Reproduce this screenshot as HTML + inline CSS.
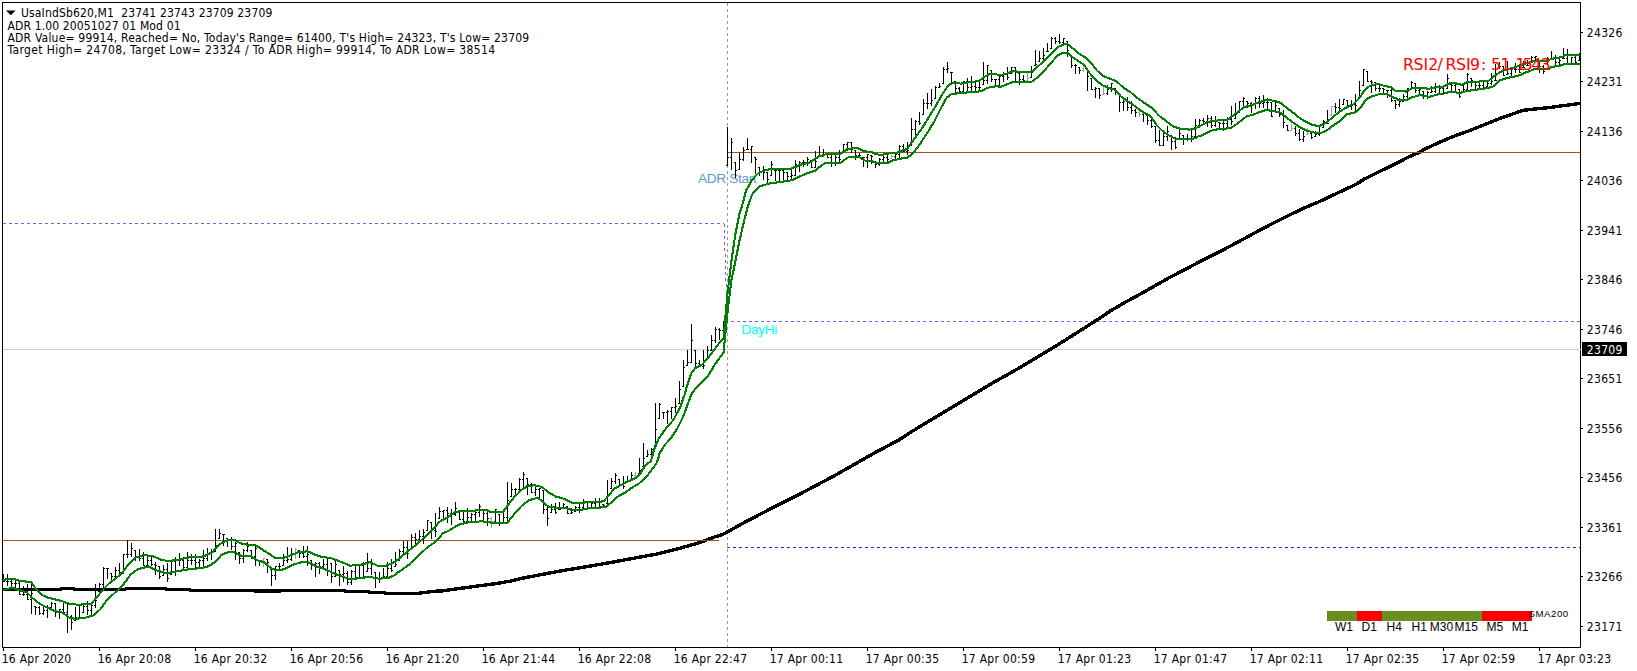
<!DOCTYPE html>
<html><head><meta charset="utf-8"><title>UsaIndSb620,M1</title>
<style>
html,body{margin:0;padding:0;background:#fff;}
body{width:1637px;height:671px;position:relative;overflow:hidden;font-family:"Liberation Sans",sans-serif;}
.t{font-family:"Liberation Sans",sans-serif;}
.h{font-family:"DejaVu Sans Condensed","Liberation Sans",sans-serif;}
.h2{font-family:"DejaVu Sans","Liberation Sans",sans-serif;}
</style></head><body>
<svg width="1637" height="671" viewBox="0 0 1637 671" style="position:absolute;left:0;top:0">
<rect width="100%" height="100%" fill="#fff"/>
<g shape-rendering="crispEdges" fill="none" stroke-width="1">
<path d="M3,349.5H1580" stroke="#d0d0d0"/>
<path d="M727.5,3V647" stroke="#9a9a9a" stroke-dasharray="3,3"/>
<path d="M3,223.5H724" stroke="#7060ee" stroke-dasharray="3,3"/>
<path d="M724,224L727.3,321" stroke="#7060ee" stroke-dasharray="3,3"/>
<path d="M731,321.5H1580" stroke="#7060ee" stroke-dasharray="3,3"/>
<path d="M727,547.5H1580" stroke="#7000f0" stroke-dasharray="3,3"/>
</g>
<polyline points="2.0,589.3 60.0,589.3 62.0,588.6 73.0,588.6 75.0,589.3 125.0,589.4 127.0,588.3 165.0,588.3 167.0,589.6 189.0,589.6 191.0,590.3 253.0,590.3 255.0,591.0 280.0,591.0 282.0,590.3 344.0,590.3 346.0,591.5 368.0,591.5 371.0,592.7 384.0,592.7 387.0,593.7 415.0,593.7 420.0,593.1 434.0,591.3 441.1,591.0 480.0,585.7 494.7,583.8 509.3,581.3 524.0,577.9 538.7,575.1 553.3,572.3 568.0,569.7 582.6,567.3 597.3,564.8 612.0,562.3 626.6,559.5 641.3,556.9 656.0,554.2 670.6,550.6 685.3,546.8 700.0,542.4 714.6,537.0 722.1,534.8 746.5,521.3 771.0,508.6 797.3,495.4 834.5,475.7 871.8,454.4 898.8,440.0 910.9,432.1 931.7,419.5 952.6,407.0 973.5,394.5 994.3,382.0 1015.2,370.3 1036.0,358.0 1056.9,345.3 1077.8,332.2 1098.0,319.3 1109.8,311.3 1124.7,302.5 1139.6,294.5 1154.5,286.0 1169.4,277.6 1184.3,269.9 1199.2,262.0 1214.1,254.6 1229.0,246.8 1243.9,238.8 1260.0,230.0 1274.9,222.3 1289.8,214.8 1304.7,207.8 1319.6,201.5 1334.5,194.4 1349.4,187.5 1356.9,183.9 1364.3,179.0 1379.2,171.7 1394.1,164.5 1409.0,156.8 1419.5,152.3 1423.9,149.6 1438.8,142.6 1453.7,136.3 1468.1,131.1 1497.9,119.2 1523.2,110.3 1551.5,107.3 1579.8,103.4" fill="none" stroke="#000" stroke-width="3.4" shape-rendering="crispEdges" stroke-linejoin="round"/>
<path d="M3,540.5H719M727,152.5H1580" stroke="#a0522d" stroke-width="1" fill="none" shape-rendering="crispEdges"/>
<text x="697.9" y="182.7" font-size="13.7" fill="#5b9bd0" class="t" textLength="58.8" lengthAdjust="spacing">ADR Start</text>
<text x="741.6" y="333.8" font-size="13.6" fill="#00ffff" class="t" textLength="35.6" lengthAdjust="spacing">DayHi</text>
<path d="M3.5,574V582M2,581.5h1.5M3.5,581.5h1.5M7.5,574V586M6,581.5h1.5M7.5,581.5h1.5M11.5,580V588M10,581.5h1.5M11.5,583.5h1.5M15.5,581V589M14,583.5h1.5M15.5,583.5h1.5M19.5,582V595M18,583.5h1.5M19.5,594.5h1.5M23.5,586V596M22,594.5h1.5M23.5,594.5h1.5M27.5,584V600M26,594.5h1.5M27.5,599.5h1.5M31.5,582V614M30,599.5h1.5M31.5,593.5h1.5M35.5,606V615M34,606.5h1.5M35.5,607.5h1.5M39.5,606V615M38,607.5h1.5M39.5,613.5h1.5M43.5,606V615M42,613.5h1.5M43.5,610.5h1.5M47.5,605V618M46,610.5h1.5M47.5,607.5h1.5M51.5,602V610M50,607.5h1.5M51.5,603.5h1.5M55.5,603V617M54,603.5h1.5M55.5,611.5h1.5M59.5,609V619M58,611.5h1.5M59.5,609.5h1.5M63.5,603V615M62,609.5h1.5M63.5,612.5h1.5M67.5,604V633M66,612.5h1.5M67.5,616.5h1.5M71.5,615V630M70,616.5h1.5M71.5,622.5h1.5M75.5,607V621M74,620.5h1.5M75.5,617.5h1.5M79.5,606V618M78,617.5h1.5M79.5,617.5h1.5M83.5,604V613M82,612.5h1.5M83.5,606.5h1.5M87.5,601V615M86,606.5h1.5M87.5,610.5h1.5M91.5,605V615M90,610.5h1.5M91.5,605.5h1.5M95.5,584V608M94,605.5h1.5M95.5,600.5h1.5M99.5,583V592M98,591.5h1.5M99.5,584.5h1.5M103.5,567V588M102,584.5h1.5M103.5,568.5h1.5M107.5,568V579M106,568.5h1.5M107.5,568.5h1.5M111.5,573V582M110,573.5h1.5M111.5,576.5h1.5M115.5,567V579M114,576.5h1.5M115.5,570.5h1.5M119.5,563V574M118,570.5h1.5M119.5,572.5h1.5M123.5,554V574M122,572.5h1.5M123.5,554.5h1.5M127.5,540V558M126,554.5h1.5M127.5,554.5h1.5M131.5,543V557M130,554.5h1.5M131.5,548.5h1.5M135.5,550V561M134,550.5h1.5M135.5,557.5h1.5M139.5,549V561M138,557.5h1.5M139.5,558.5h1.5M143.5,552V566M142,558.5h1.5M143.5,565.5h1.5M147.5,557V566M146,565.5h1.5M147.5,560.5h1.5M151.5,556V566M150,560.5h1.5M151.5,564.5h1.5M155.5,562V575M154,564.5h1.5M155.5,565.5h1.5M159.5,566V579M158,566.5h1.5M159.5,576.5h1.5M163.5,565V576M162,575.5h1.5M163.5,569.5h1.5M167.5,563V582M166,569.5h1.5M167.5,578.5h1.5M171.5,561V575M170,574.5h1.5M171.5,561.5h1.5M175.5,557V576M174,561.5h1.5M175.5,559.5h1.5M179.5,553V566M178,559.5h1.5M179.5,560.5h1.5M183.5,557V571M182,560.5h1.5M183.5,567.5h1.5M187.5,552V571M186,567.5h1.5M187.5,560.5h1.5M191.5,554V565M190,560.5h1.5M191.5,560.5h1.5M195.5,554V568M194,560.5h1.5M195.5,562.5h1.5M199.5,559V569M198,562.5h1.5M199.5,560.5h1.5M203.5,550V568M202,560.5h1.5M203.5,558.5h1.5M207.5,548V561M206,558.5h1.5M207.5,553.5h1.5M211.5,549V560M210,553.5h1.5M211.5,552.5h1.5M215.5,529V552M214,551.5h1.5M215.5,545.5h1.5M219.5,529V539M218,538.5h1.5M219.5,533.5h1.5M223.5,534V546M222,534.5h1.5M223.5,534.5h1.5M227.5,538V547M226,538.5h1.5M227.5,539.5h1.5M231.5,537V550M230,539.5h1.5M231.5,546.5h1.5M235.5,540V560M234,546.5h1.5M235.5,543.5h1.5M239.5,552V564M238,552.5h1.5M239.5,558.5h1.5M243.5,549V563M242,558.5h1.5M243.5,550.5h1.5M247.5,542V552M246,550.5h1.5M247.5,546.5h1.5M251.5,550V559M250,550.5h1.5M251.5,556.5h1.5M255.5,546V566M254,556.5h1.5M255.5,548.5h1.5M259.5,560V566M258,560.5h1.5M259.5,560.5h1.5M267.5,559V573M266,559.5h1.5M267.5,562.5h1.5M271.5,569V586M270,569.5h1.5M271.5,575.5h1.5M275.5,566V580M274,575.5h1.5M275.5,566.5h1.5M279.5,563V570M278,566.5h1.5M279.5,566.5h1.5M283.5,554V566M282,565.5h1.5M283.5,560.5h1.5M287.5,547V563M286,560.5h1.5M287.5,559.5h1.5M291.5,548V561M290,559.5h1.5M291.5,554.5h1.5M299.5,550V558M298,550.5h1.5M299.5,553.5h1.5M303.5,546V558M302,553.5h1.5M303.5,556.5h1.5M307.5,546V566M306,556.5h1.5M307.5,554.5h1.5M311.5,560V570M310,560.5h1.5M311.5,565.5h1.5M315.5,562V577M314,565.5h1.5M315.5,563.5h1.5M319.5,562V574M318,563.5h1.5M319.5,566.5h1.5M323.5,559V570M322,566.5h1.5M323.5,564.5h1.5M327.5,557V576M326,564.5h1.5M327.5,557.5h1.5M331.5,563V583M330,563.5h1.5M331.5,576.5h1.5M335.5,561V577M334,576.5h1.5M335.5,564.5h1.5M339.5,570V586M338,570.5h1.5M339.5,574.5h1.5M343.5,566V582M342,574.5h1.5M343.5,573.5h1.5M347.5,571V585M346,573.5h1.5M347.5,582.5h1.5M351.5,570V585M350,582.5h1.5M351.5,571.5h1.5M355.5,565V579M354,571.5h1.5M355.5,565.5h1.5M359.5,565V578M358,565.5h1.5M359.5,565.5h1.5M363.5,562V578M362,565.5h1.5M363.5,576.5h1.5M367.5,553V572M366,571.5h1.5M367.5,568.5h1.5M371.5,559V575M370,568.5h1.5M371.5,564.5h1.5M375.5,572V588M374,572.5h1.5M375.5,578.5h1.5M379.5,572V583M378,578.5h1.5M379.5,579.5h1.5M383.5,568V579M382,578.5h1.5M383.5,576.5h1.5M387.5,562V578M386,576.5h1.5M387.5,568.5h1.5M391.5,559V572M390,568.5h1.5M391.5,570.5h1.5M395.5,552V567M394,566.5h1.5M395.5,564.5h1.5M399.5,549V561M398,560.5h1.5M399.5,551.5h1.5M403.5,541V554M402,551.5h1.5M403.5,547.5h1.5M407.5,541V559M406,547.5h1.5M407.5,553.5h1.5M411.5,534V550M410,549.5h1.5M411.5,537.5h1.5M415.5,533V545M414,537.5h1.5M415.5,539.5h1.5M419.5,530V541M418,539.5h1.5M419.5,536.5h1.5M423.5,529V544M422,536.5h1.5M423.5,532.5h1.5M427.5,520V531M426,530.5h1.5M427.5,520.5h1.5M431.5,522V539M430,522.5h1.5M431.5,530.5h1.5M435.5,513V537M434,530.5h1.5M435.5,531.5h1.5M439.5,507V519M438,518.5h1.5M439.5,511.5h1.5M443.5,510V520M442,511.5h1.5M443.5,510.5h1.5M447.5,507V523M446,510.5h1.5M447.5,513.5h1.5M451.5,509V525M450,513.5h1.5M451.5,514.5h1.5M455.5,502V516M454,514.5h1.5M455.5,508.5h1.5M459.5,510V520M458,510.5h1.5M459.5,519.5h1.5M463.5,511V522M462,519.5h1.5M463.5,521.5h1.5M467.5,508V523M466,521.5h1.5M467.5,517.5h1.5M471.5,513V523M470,517.5h1.5M471.5,514.5h1.5M475.5,512V523M474,514.5h1.5M475.5,512.5h1.5M479.5,504V517M478,512.5h1.5M479.5,506.5h1.5M483.5,510V522M482,510.5h1.5M483.5,513.5h1.5M487.5,511V526M486,513.5h1.5M487.5,518.5h1.5M495.5,509V523M494,521.5h1.5M495.5,509.5h1.5M499.5,514V526M498,514.5h1.5M499.5,523.5h1.5M503.5,512V523M502,522.5h1.5M503.5,517.5h1.5M507.5,482V523M506,517.5h1.5M507.5,500.5h1.5M511.5,483V497M510,496.5h1.5M511.5,489.5h1.5M515.5,488V497M514,489.5h1.5M515.5,489.5h1.5M519.5,478V492M518,489.5h1.5M519.5,479.5h1.5M523.5,472V488M522,479.5h1.5M523.5,474.5h1.5M527.5,478V495M526,478.5h1.5M527.5,484.5h1.5M531.5,483V493M530,484.5h1.5M531.5,492.5h1.5M535.5,486V496M534,492.5h1.5M535.5,489.5h1.5M539.5,488V499M538,489.5h1.5M539.5,488.5h1.5M543.5,490V514M542,490.5h1.5M543.5,509.5h1.5M547.5,507V526M546,509.5h1.5M547.5,518.5h1.5M551.5,504V513M550,512.5h1.5M551.5,509.5h1.5M555.5,503V514M554,509.5h1.5M555.5,512.5h1.5M559.5,502V510M558,509.5h1.5M559.5,509.5h1.5M563.5,503V509M562,508.5h1.5M563.5,504.5h1.5M567.5,506V514M566,506.5h1.5M567.5,513.5h1.5M571.5,508V514M570,513.5h1.5M571.5,512.5h1.5M575.5,506V512M574,511.5h1.5M575.5,507.5h1.5M579.5,503V513M578,507.5h1.5M579.5,509.5h1.5M583.5,499V508M582,507.5h1.5M583.5,501.5h1.5M587.5,502V509M586,502.5h1.5M587.5,507.5h1.5M591.5,502V509M590,507.5h1.5M591.5,503.5h1.5M595.5,498V509M594,503.5h1.5M595.5,502.5h1.5M599.5,498V508M598,502.5h1.5M599.5,501.5h1.5M603.5,504V508M602,504.5h1.5M603.5,505.5h1.5M607.5,480V504M606,503.5h1.5M607.5,503.5h1.5M611.5,478V489M610,488.5h1.5M611.5,481.5h1.5M615.5,473V484M614,481.5h1.5M615.5,475.5h1.5M619.5,479V486M618,479.5h1.5M619.5,484.5h1.5M623.5,476V489M622,484.5h1.5M623.5,486.5h1.5M627.5,476V483M626,482.5h1.5M627.5,480.5h1.5M631.5,472V480M630,479.5h1.5M631.5,475.5h1.5M639.5,458V474M638,473.5h1.5M639.5,470.5h1.5M643.5,443V467M642,466.5h1.5M643.5,458.5h1.5M647.5,450V457M646,456.5h1.5M647.5,454.5h1.5M651.5,448V457M650,454.5h1.5M651.5,449.5h1.5M655.5,403V446M654,445.5h1.5M655.5,429.5h1.5M659.5,403V419M658,418.5h1.5M659.5,404.5h1.5M663.5,412V419M662,412.5h1.5M663.5,412.5h1.5M667.5,410V424M666,412.5h1.5M667.5,411.5h1.5M671.5,407V419M670,411.5h1.5M671.5,407.5h1.5M675.5,398V413M674,407.5h1.5M675.5,406.5h1.5M679.5,381V404M678,403.5h1.5M679.5,389.5h1.5M683.5,360V387M682,386.5h1.5M683.5,367.5h1.5M687.5,350V366M686,365.5h1.5M687.5,362.5h1.5M691.5,324V363M690,362.5h1.5M691.5,340.5h1.5M695.5,350V368M694,350.5h1.5M695.5,363.5h1.5M699.5,360V367M698,363.5h1.5M699.5,366.5h1.5M703.5,350V369M702,366.5h1.5M703.5,365.5h1.5M707.5,346V359M706,358.5h1.5M707.5,350.5h1.5M711.5,335V351M710,350.5h1.5M711.5,340.5h1.5M715.5,327V343M714,340.5h1.5M715.5,329.5h1.5M719.5,328V340M718,329.5h1.5M719.5,330.5h1.5M723.5,321V338M722,330.5h1.5M723.5,328.5h1.5M727.5,127V166M726,165.5h1.5M727.5,157.5h1.5M731.5,138V170M730,157.5h1.5M731.5,142.5h1.5M735.5,162V178M734,162.5h1.5M735.5,170.5h1.5M739.5,153V170M738,169.5h1.5M739.5,159.5h1.5M743.5,147V161M742,159.5h1.5M743.5,150.5h1.5M747.5,138V150M746,149.5h1.5M747.5,149.5h1.5M751.5,146V163M750,149.5h1.5M751.5,146.5h1.5M755.5,157V174M754,157.5h1.5M755.5,159.5h1.5M759.5,167V176M758,167.5h1.5M759.5,171.5h1.5M763.5,166V180M762,171.5h1.5M763.5,172.5h1.5M767.5,172V184M766,172.5h1.5M767.5,179.5h1.5M771.5,161V176M770,175.5h1.5M771.5,164.5h1.5M775.5,170V181M774,170.5h1.5M775.5,170.5h1.5M779.5,170V181M778,170.5h1.5M779.5,170.5h1.5M783.5,170V180M782,170.5h1.5M783.5,172.5h1.5M787.5,172V181M786,172.5h1.5M787.5,176.5h1.5M791.5,170V181M790,176.5h1.5M791.5,175.5h1.5M795.5,160V176M794,175.5h1.5M795.5,164.5h1.5M799.5,161V172M798,164.5h1.5M799.5,162.5h1.5M803.5,160V167M802,162.5h1.5M803.5,162.5h1.5M807.5,157V166M806,162.5h1.5M807.5,159.5h1.5M811.5,160V168M810,160.5h1.5M811.5,167.5h1.5M815.5,151V168M814,167.5h1.5M815.5,161.5h1.5M819.5,146V157M818,156.5h1.5M819.5,156.5h1.5M823.5,149V155M822,154.5h1.5M823.5,154.5h1.5M827.5,153V158M826,154.5h1.5M827.5,157.5h1.5M831.5,154V167M830,157.5h1.5M831.5,163.5h1.5M835.5,155V166M834,163.5h1.5M835.5,157.5h1.5M839.5,150V164M838,157.5h1.5M839.5,159.5h1.5M843.5,144V153M842,152.5h1.5M843.5,144.5h1.5M847.5,142V151M846,144.5h1.5M847.5,142.5h1.5M851.5,142V153M850,142.5h1.5M851.5,149.5h1.5M855.5,150V160M854,150.5h1.5M855.5,155.5h1.5M859.5,153V158M858,155.5h1.5M859.5,155.5h1.5M863.5,157V167M862,157.5h1.5M863.5,157.5h1.5M867.5,154V168M866,157.5h1.5M867.5,154.5h1.5M871.5,155V164M870,155.5h1.5M871.5,156.5h1.5M875.5,161V168M874,161.5h1.5M875.5,164.5h1.5M879.5,158V166M878,164.5h1.5M879.5,159.5h1.5M883.5,153V163M882,159.5h1.5M883.5,157.5h1.5M887.5,154V162M886,157.5h1.5M887.5,159.5h1.5M895.5,154V159M894,156.5h1.5M895.5,154.5h1.5M899.5,145V158M898,154.5h1.5M899.5,146.5h1.5M903.5,144V152M902,146.5h1.5M903.5,151.5h1.5M907.5,142V155M906,151.5h1.5M907.5,150.5h1.5M911.5,118V146M910,145.5h1.5M911.5,129.5h1.5M915.5,120V136M914,129.5h1.5M915.5,121.5h1.5M919.5,112V125M918,121.5h1.5M919.5,123.5h1.5M923.5,99V115M922,114.5h1.5M923.5,103.5h1.5M927.5,93V109M926,103.5h1.5M927.5,103.5h1.5M931.5,89V106M930,103.5h1.5M931.5,100.5h1.5M935.5,86V99M934,98.5h1.5M935.5,87.5h1.5M939.5,83V88M938,87.5h1.5M939.5,86.5h1.5M943.5,67V84M942,83.5h1.5M943.5,69.5h1.5M947.5,62V73M946,69.5h1.5M947.5,68.5h1.5M951.5,72V84M950,72.5h1.5M951.5,72.5h1.5M955.5,81V94M954,81.5h1.5M955.5,88.5h1.5M959.5,87V94M958,88.5h1.5M959.5,91.5h1.5M963.5,81V94M962,91.5h1.5M963.5,81.5h1.5M967.5,78V91M966,81.5h1.5M967.5,87.5h1.5M971.5,76V91M970,87.5h1.5M971.5,86.5h1.5M975.5,81V92M974,86.5h1.5M975.5,87.5h1.5M979.5,81V92M978,87.5h1.5M979.5,87.5h1.5M983.5,62V85M982,84.5h1.5M983.5,80.5h1.5M987.5,65V84M986,80.5h1.5M987.5,65.5h1.5M991.5,70V82M990,70.5h1.5M991.5,79.5h1.5M995.5,79V86M994,79.5h1.5M995.5,79.5h1.5M999.5,75V87M998,79.5h1.5M999.5,76.5h1.5M1003.5,72V82M1002,76.5h1.5M1003.5,73.5h1.5M1007.5,67V80M1006,73.5h1.5M1007.5,77.5h1.5M1011.5,67V74M1010,73.5h1.5M1011.5,67.5h1.5M1015.5,67V82M1014,67.5h1.5M1015.5,71.5h1.5M1019.5,73V85M1018,73.5h1.5M1019.5,79.5h1.5M1023.5,75V82M1022,79.5h1.5M1023.5,80.5h1.5M1031.5,66V78M1030,77.5h1.5M1031.5,72.5h1.5M1035.5,50V66M1034,65.5h1.5M1035.5,64.5h1.5M1039.5,51V62M1038,61.5h1.5M1039.5,58.5h1.5M1043.5,48V60M1042,58.5h1.5M1043.5,55.5h1.5M1047.5,43V52M1046,51.5h1.5M1047.5,51.5h1.5M1051.5,37V49M1050,48.5h1.5M1051.5,38.5h1.5M1055.5,37V44M1054,38.5h1.5M1055.5,41.5h1.5M1059.5,34V44M1058,41.5h1.5M1059.5,42.5h1.5M1063.5,38V44M1062,42.5h1.5M1063.5,38.5h1.5M1067.5,41V57M1066,41.5h1.5M1067.5,50.5h1.5M1071.5,56V68M1070,56.5h1.5M1071.5,65.5h1.5M1075.5,64V74M1074,65.5h1.5M1075.5,65.5h1.5M1079.5,67V74M1078,67.5h1.5M1079.5,70.5h1.5M1087.5,69V91M1086,69.5h1.5M1087.5,76.5h1.5M1091.5,78V90M1090,78.5h1.5M1091.5,89.5h1.5M1095.5,87V98M1094,89.5h1.5M1095.5,88.5h1.5M1099.5,88V99M1098,88.5h1.5M1099.5,95.5h1.5M1107.5,85V95M1106,93.5h1.5M1107.5,89.5h1.5M1111.5,83V92M1110,89.5h1.5M1111.5,83.5h1.5M1115.5,88V95M1114,88.5h1.5M1115.5,90.5h1.5M1119.5,93V112M1118,93.5h1.5M1119.5,102.5h1.5M1123.5,99V111M1122,102.5h1.5M1123.5,101.5h1.5M1127.5,97V111M1126,101.5h1.5M1127.5,107.5h1.5M1131.5,101V114M1130,107.5h1.5M1131.5,110.5h1.5M1135.5,109V117M1134,110.5h1.5M1135.5,112.5h1.5M1143.5,111V122M1142,114.5h1.5M1143.5,113.5h1.5M1147.5,115V125M1146,115.5h1.5M1147.5,120.5h1.5M1151.5,116V128M1150,120.5h1.5M1151.5,126.5h1.5M1155.5,126V143M1154,126.5h1.5M1155.5,140.5h1.5M1159.5,130V146M1158,140.5h1.5M1159.5,145.5h1.5M1163.5,133V146M1162,145.5h1.5M1163.5,136.5h1.5M1167.5,126V141M1166,136.5h1.5M1167.5,131.5h1.5M1171.5,135V150M1170,135.5h1.5M1171.5,141.5h1.5M1175.5,137V149M1174,141.5h1.5M1175.5,147.5h1.5M1179.5,129V139M1178,138.5h1.5M1179.5,133.5h1.5M1183.5,135V145M1182,135.5h1.5M1183.5,138.5h1.5M1187.5,134V141M1186,138.5h1.5M1187.5,139.5h1.5M1191.5,130V142M1190,139.5h1.5M1191.5,136.5h1.5M1195.5,119V138M1194,136.5h1.5M1195.5,125.5h1.5M1199.5,119V126M1198,125.5h1.5M1199.5,120.5h1.5M1203.5,118V125M1202,120.5h1.5M1203.5,121.5h1.5M1207.5,115V127M1206,121.5h1.5M1207.5,118.5h1.5M1211.5,116V128M1210,118.5h1.5M1211.5,125.5h1.5M1215.5,116V127M1214,125.5h1.5M1215.5,121.5h1.5M1219.5,122V128M1218,122.5h1.5M1219.5,123.5h1.5M1223.5,121V131M1222,123.5h1.5M1223.5,123.5h1.5M1227.5,117V128M1226,123.5h1.5M1227.5,119.5h1.5M1231.5,106V125M1230,119.5h1.5M1231.5,121.5h1.5M1235.5,103V119M1234,118.5h1.5M1235.5,114.5h1.5M1239.5,101V113M1238,112.5h1.5M1239.5,101.5h1.5M1243.5,97V107M1242,101.5h1.5M1243.5,98.5h1.5M1247.5,101V108M1246,101.5h1.5M1247.5,103.5h1.5M1251.5,102V113M1250,103.5h1.5M1251.5,104.5h1.5M1255.5,97V109M1254,104.5h1.5M1255.5,98.5h1.5M1259.5,96V108M1258,98.5h1.5M1259.5,103.5h1.5M1263.5,95V108M1262,103.5h1.5M1263.5,102.5h1.5M1267.5,98V109M1266,102.5h1.5M1267.5,102.5h1.5M1271.5,102V117M1270,102.5h1.5M1271.5,116.5h1.5M1275.5,102V111M1274,110.5h1.5M1275.5,105.5h1.5M1279.5,108V117M1278,108.5h1.5M1279.5,114.5h1.5M1283.5,110V128M1282,114.5h1.5M1283.5,122.5h1.5M1287.5,125V131M1286,125.5h1.5M1287.5,130.5h1.5M1295.5,126V136M1294,128.5h1.5M1295.5,133.5h1.5M1299.5,129V141M1298,133.5h1.5M1299.5,139.5h1.5M1303.5,131V142M1302,139.5h1.5M1303.5,136.5h1.5M1311.5,133V139M1310,133.5h1.5M1311.5,137.5h1.5M1315.5,131V137M1314,136.5h1.5M1315.5,134.5h1.5M1319.5,127V136M1318,134.5h1.5M1319.5,132.5h1.5M1323.5,120V128M1322,127.5h1.5M1323.5,121.5h1.5M1327.5,110V124M1326,121.5h1.5M1327.5,123.5h1.5M1335.5,103V113M1334,106.5h1.5M1335.5,107.5h1.5M1339.5,99V111M1338,107.5h1.5M1339.5,108.5h1.5M1343.5,99V105M1342,104.5h1.5M1343.5,99.5h1.5M1347.5,100V106M1346,100.5h1.5M1347.5,105.5h1.5M1351.5,100V110M1350,105.5h1.5M1351.5,104.5h1.5M1355.5,94V111M1354,104.5h1.5M1355.5,105.5h1.5M1359.5,81V98M1358,97.5h1.5M1359.5,90.5h1.5M1363.5,69V86M1362,85.5h1.5M1363.5,69.5h1.5M1367.5,71V82M1366,71.5h1.5M1367.5,81.5h1.5M1371.5,80V93M1370,81.5h1.5M1371.5,82.5h1.5M1375.5,82V91M1374,82.5h1.5M1375.5,88.5h1.5M1379.5,85V92M1378,88.5h1.5M1379.5,88.5h1.5M1383.5,88V94M1382,88.5h1.5M1383.5,89.5h1.5M1387.5,90V98M1386,90.5h1.5M1387.5,90.5h1.5M1391.5,88V102M1390,90.5h1.5M1391.5,100.5h1.5M1395.5,100V109M1394,100.5h1.5M1395.5,104.5h1.5M1399.5,98V107M1398,104.5h1.5M1399.5,101.5h1.5M1403.5,94V102M1402,101.5h1.5M1403.5,96.5h1.5M1407.5,88V100M1406,96.5h1.5M1407.5,88.5h1.5M1411.5,81V90M1410,88.5h1.5M1411.5,82.5h1.5M1415.5,83V93M1414,83.5h1.5M1415.5,90.5h1.5M1419.5,89V96M1418,90.5h1.5M1419.5,89.5h1.5M1423.5,91V99M1422,91.5h1.5M1423.5,96.5h1.5M1427.5,91V99M1426,96.5h1.5M1427.5,92.5h1.5M1431.5,86V93M1430,92.5h1.5M1431.5,91.5h1.5M1435.5,83V93M1434,91.5h1.5M1435.5,86.5h1.5M1439.5,85V94M1438,86.5h1.5M1439.5,88.5h1.5M1443.5,86V94M1442,88.5h1.5M1443.5,93.5h1.5M1447.5,74V89M1446,88.5h1.5M1447.5,78.5h1.5M1451.5,84V91M1450,84.5h1.5M1451.5,85.5h1.5M1455.5,82V92M1454,85.5h1.5M1455.5,82.5h1.5M1459.5,89V98M1458,89.5h1.5M1459.5,96.5h1.5M1463.5,85V92M1462,91.5h1.5M1463.5,89.5h1.5M1467.5,73V90M1466,89.5h1.5M1467.5,74.5h1.5M1471.5,78V87M1470,78.5h1.5M1471.5,80.5h1.5M1475.5,82V90M1474,82.5h1.5M1475.5,85.5h1.5M1479.5,81V90M1478,85.5h1.5M1479.5,85.5h1.5M1483.5,81V88M1482,85.5h1.5M1483.5,87.5h1.5M1487.5,81V87M1486,86.5h1.5M1487.5,83.5h1.5M1491.5,73V85M1490,83.5h1.5M1491.5,81.5h1.5M1495.5,64V81M1494,80.5h1.5M1495.5,80.5h1.5M1499.5,62V69M1498,68.5h1.5M1499.5,66.5h1.5M1503.5,66V76M1502,66.5h1.5M1503.5,75.5h1.5M1507.5,61V75M1506,74.5h1.5M1507.5,73.5h1.5M1511.5,67V76M1510,73.5h1.5M1511.5,69.5h1.5M1515.5,63V73M1514,69.5h1.5M1515.5,69.5h1.5M1519.5,66V73M1518,69.5h1.5M1519.5,72.5h1.5M1523.5,61V68M1522,67.5h1.5M1523.5,67.5h1.5M1527.5,60V66M1526,65.5h1.5M1527.5,65.5h1.5M1531.5,56V62M1530,61.5h1.5M1531.5,57.5h1.5M1535.5,56V62M1534,57.5h1.5M1535.5,56.5h1.5M1539.5,60V73M1538,60.5h1.5M1539.5,66.5h1.5M1543.5,65V74M1542,66.5h1.5M1543.5,71.5h1.5M1547.5,57V64M1546,63.5h1.5M1547.5,58.5h1.5M1551.5,51V59M1550,58.5h1.5M1551.5,58.5h1.5M1555.5,55V65M1554,58.5h1.5M1555.5,62.5h1.5M1559.5,59V66M1558,62.5h1.5M1559.5,60.5h1.5M1563.5,48V59M1562,58.5h1.5M1563.5,58.5h1.5M1567.5,49V64M1566,58.5h1.5M1567.5,63.5h1.5M1571.5,57V64M1570,63.5h1.5M1571.5,57.5h1.5M1575.5,56V64M1574,57.5h1.5M1575.5,62.5h1.5M1579.5,53V61M1578,60.5h1.5M1579.5,58.5h1.5" stroke="#000" stroke-width="1" fill="none" shape-rendering="crispEdges"/><path d="M263.5,558V567M262,560.5h1.5M263.5,558.5h1.5M295.5,548V559M294,554.5h1.5M295.5,549.5h1.5M491.5,517V528M490,518.5h1.5M491.5,521.5h1.5M635.5,472V478M634,475.5h1.5M635.5,477.5h1.5M891.5,155V159M890,158.5h1.5M891.5,156.5h1.5M1027.5,73V82M1026,80.5h1.5M1027.5,78.5h1.5M1083.5,65V72M1082,70.5h1.5M1083.5,65.5h1.5M1103.5,86V95M1102,94.5h1.5M1103.5,93.5h1.5M1139.5,110V117M1138,112.5h1.5M1139.5,114.5h1.5M1291.5,124V131M1290,130.5h1.5M1291.5,128.5h1.5M1307.5,128V135M1306,134.5h1.5M1307.5,133.5h1.5M1331.5,106V116M1330,115.5h1.5M1331.5,106.5h1.5" stroke="#a0a0a0" stroke-width="1" fill="none" shape-rendering="crispEdges"/>
<path d="M1061,52.5h8M1059,53.5h11M1057,54.5h5M1068,54.5h3M1056,55.5h4M1069,55.5h3M1055,56.5h3M1070,56.5h3M1054,57.5h3M1072,57.5h3M1054,58.5h2M1073,58.5h3M1053,59.5h2M1074,59.5h4M1052,60.5h2M1076,60.5h3M1051,61.5h3M1077,61.5h4M1050,62.5h3M1079,62.5h3M1049,63.5h3M1080,63.5h4M1563,63.5h17M1048,64.5h3M1082,64.5h3M1560,64.5h20M1047,65.5h3M1083,65.5h3M1554,65.5h10M1047,66.5h2M1084,66.5h2M1550,66.5h11M1046,67.5h2M1085,67.5h2M1549,67.5h6M1045,68.5h2M1085,68.5h3M1533,68.5h18M1044,69.5h3M1086,69.5h2M1531,69.5h19M1043,70.5h3M1087,70.5h2M1528,70.5h6M1042,71.5h3M1087,71.5h3M1525,71.5h6M1041,72.5h3M1088,72.5h2M1523,72.5h6M1040,73.5h3M1089,73.5h2M1521,73.5h5M1039,74.5h3M1090,74.5h2M1518,74.5h6M1038,75.5h3M1090,75.5h3M1514,75.5h8M1037,76.5h3M1091,76.5h3M1509,76.5h10M1036,77.5h3M1092,77.5h3M1505,77.5h10M1034,78.5h4M1093,78.5h3M1502,78.5h8M1033,79.5h3M1094,79.5h3M1499,79.5h7M1032,80.5h3M1095,80.5h3M1498,80.5h5M1011,81.5h23M1096,81.5h3M1497,81.5h3M1009,82.5h23M1097,82.5h4M1496,82.5h3M1006,83.5h6M1098,83.5h4M1495,83.5h3M1004,84.5h5M1100,84.5h3M1494,84.5h3M994,85.5h5M1001,85.5h6M1101,85.5h5M1493,85.5h3M989,86.5h15M1103,86.5h5M1489,86.5h6M986,87.5h9M998,87.5h4M1105,87.5h6M1484,87.5h9M984,88.5h5M1107,88.5h7M1477,88.5h13M982,89.5h4M1110,89.5h6M1470,89.5h15M978,90.5h7M1114,90.5h3M1465,90.5h13M966,91.5h17M1115,91.5h3M1447,91.5h10M1461,91.5h10M956,92.5h23M1116,92.5h3M1444,92.5h21M951,93.5h16M1117,93.5h3M1378,93.5h10M1437,93.5h11M1456,93.5h6M949,94.5h8M1118,94.5h3M1375,94.5h15M1418,94.5h5M1434,94.5h10M948,95.5h3M1119,95.5h2M1371,95.5h7M1387,95.5h5M1415,95.5h13M1430,95.5h8M946,96.5h4M1120,96.5h3M1369,96.5h6M1389,96.5h5M1411,96.5h8M1422,96.5h12M946,97.5h3M1121,97.5h3M1367,97.5h5M1391,97.5h6M1409,97.5h6M1427,97.5h4M945,98.5h2M1122,98.5h4M1366,98.5h4M1393,98.5h5M1407,98.5h5M944,99.5h3M1123,99.5h4M1365,99.5h3M1396,99.5h14M944,100.5h2M1125,100.5h3M1364,100.5h3M1397,100.5h11M943,101.5h3M1126,101.5h4M1363,101.5h3M943,102.5h2M1128,102.5h3M1363,102.5h2M942,103.5h3M1129,103.5h4M1362,103.5h3M942,104.5h2M1131,104.5h3M1361,104.5h3M941,105.5h3M1132,105.5h4M1361,105.5h2M941,106.5h2M1134,106.5h3M1360,106.5h3M940,107.5h2M1135,107.5h3M1359,107.5h3M940,108.5h2M1136,108.5h4M1358,108.5h3M939,109.5h2M1138,109.5h3M1264,109.5h6M1357,109.5h3M939,110.5h2M1139,110.5h4M1261,110.5h14M1356,110.5h3M938,111.5h2M1140,111.5h4M1258,111.5h7M1269,111.5h11M1354,111.5h4M938,112.5h2M1142,112.5h4M1256,112.5h6M1275,112.5h7M1350,112.5h7M937,113.5h2M1143,113.5h5M1253,113.5h6M1280,113.5h3M1346,113.5h9M937,114.5h2M1145,114.5h5M1250,114.5h6M1281,114.5h3M1345,114.5h6M936,115.5h2M1147,115.5h4M1246,115.5h8M1282,115.5h4M1344,115.5h3M936,116.5h2M1149,116.5h3M1245,116.5h5M1284,116.5h3M1343,116.5h3M935,117.5h2M1150,117.5h3M1243,117.5h4M1285,117.5h3M1342,117.5h3M935,118.5h2M1151,118.5h2M1242,118.5h3M1286,118.5h3M1341,118.5h3M934,119.5h2M1152,119.5h2M1241,119.5h3M1287,119.5h4M1340,119.5h3M934,120.5h2M1152,120.5h3M1240,120.5h3M1289,120.5h3M1339,120.5h3M933,121.5h2M1153,121.5h3M1238,121.5h4M1290,121.5h3M1337,121.5h4M932,122.5h3M1154,122.5h2M1237,122.5h3M1291,122.5h4M1336,122.5h4M932,123.5h2M1154,123.5h3M1236,123.5h3M1293,123.5h3M1334,123.5h4M931,124.5h3M1155,124.5h2M1234,124.5h4M1294,124.5h4M1333,124.5h4M930,125.5h3M1156,125.5h2M1233,125.5h3M1296,125.5h3M1331,125.5h4M930,126.5h2M1157,126.5h2M1231,126.5h4M1297,126.5h4M1330,126.5h4M929,127.5h3M1158,127.5h2M1226,127.5h7M1298,127.5h5M1329,127.5h3M929,128.5h2M1159,128.5h2M1216,128.5h16M1300,128.5h5M1328,128.5h3M928,129.5h3M1160,129.5h2M1212,129.5h15M1302,129.5h5M1326,129.5h4M928,130.5h2M1161,130.5h3M1209,130.5h8M1304,130.5h6M1324,130.5h4M927,131.5h2M1162,131.5h3M1207,131.5h5M1306,131.5h8M1322,131.5h5M926,132.5h3M1163,132.5h3M1205,132.5h5M1310,132.5h15M926,133.5h2M1164,133.5h4M1203,133.5h5M1314,133.5h8M925,134.5h2M1166,134.5h3M1201,134.5h5M924,135.5h3M1167,135.5h4M1198,135.5h6M924,136.5h2M1169,136.5h4M1196,136.5h6M923,137.5h2M1171,137.5h4M1193,137.5h5M922,138.5h3M1173,138.5h24M922,139.5h2M1175,139.5h19M921,140.5h2M920,141.5h3M920,142.5h2M919,143.5h3M918,144.5h3M918,145.5h2M917,146.5h2M916,147.5h3M915,148.5h3M915,149.5h2M914,150.5h2M913,151.5h3M912,152.5h3M911,153.5h3M910,154.5h3M908,155.5h4M848,156.5h12M907,156.5h4M846,157.5h16M901,157.5h8M845,158.5h3M860,158.5h4M897,158.5h11M843,159.5h4M861,159.5h4M892,159.5h10M842,160.5h3M863,160.5h10M890,160.5h7M841,161.5h3M865,161.5h10M888,161.5h5M824,162.5h19M872,162.5h19M823,163.5h18M875,163.5h14M821,164.5h4M820,165.5h3M818,166.5h4M817,167.5h4M816,168.5h3M815,169.5h3M812,170.5h5M809,171.5h7M806,172.5h7M804,173.5h6M802,174.5h5M799,175.5h6M797,176.5h5M795,177.5h5M793,178.5h5M790,179.5h6M783,180.5h11M776,181.5h14M769,182.5h15M766,183.5h11M762,184.5h8M759,185.5h7M758,186.5h5M757,187.5h3M756,188.5h3M755,189.5h3M754,190.5h3M753,191.5h3M752,192.5h3M752,193.5h2M751,194.5h2M751,195.5h2M750,196.5h2M750,197.5h2M750,198.5h2M749,199.5h2M749,200.5h2M748,201.5h3M748,202.5h2M748,203.5h2M747,204.5h3M747,205.5h2M747,206.5h2M746,207.5h3M746,208.5h2M746,209.5h2M746,210.5h2M745,211.5h3M745,212.5h2M745,213.5h2M745,214.5h2M744,215.5h3M744,216.5h2M744,217.5h2M744,218.5h2M743,219.5h2M743,220.5h2M743,221.5h2M743,222.5h2M742,223.5h3M742,224.5h2M742,225.5h2M742,226.5h2M741,227.5h3M741,228.5h2M741,229.5h2M741,230.5h2M741,231.5h2M740,232.5h2M740,233.5h2M740,234.5h2M740,235.5h2M739,236.5h3M739,237.5h2M739,238.5h2M739,239.5h2M738,240.5h3M738,241.5h2M738,242.5h2M738,243.5h2M738,244.5h2M737,245.5h3M737,246.5h2M737,247.5h2M737,248.5h2M737,249.5h2M736,250.5h3M736,251.5h2M736,252.5h2M736,253.5h2M736,254.5h2M735,255.5h3M735,256.5h2M735,257.5h2M735,258.5h2M735,259.5h2M734,260.5h3M734,261.5h2M734,262.5h2M734,263.5h2M734,264.5h2M733,265.5h3M733,266.5h2M733,267.5h2M733,268.5h2M733,269.5h2M732,270.5h3M732,271.5h2M732,272.5h2M732,273.5h2M732,274.5h2M731,275.5h2M731,276.5h2M731,277.5h2M731,278.5h2M730,279.5h3M730,280.5h2M730,281.5h2M730,282.5h2M730,283.5h2M730,284.5h2M730,285.5h2M730,286.5h2M729,287.5h3M729,288.5h2M729,289.5h2M729,290.5h2M729,291.5h2M729,292.5h2M729,293.5h2M729,294.5h2M729,295.5h2M728,296.5h2M728,297.5h2M728,298.5h2M728,299.5h2M728,300.5h2M728,301.5h2M728,302.5h2M728,303.5h2M727,304.5h2M727,305.5h2M727,306.5h2M727,307.5h2M727,308.5h2M727,309.5h2M727,310.5h2M727,311.5h2M726,312.5h3M726,313.5h2M726,314.5h2M726,315.5h2M726,316.5h2M726,317.5h2M726,318.5h2M726,319.5h2M726,320.5h2M726,321.5h2M725,322.5h3M725,323.5h2M725,324.5h2M725,325.5h2M725,326.5h2M725,327.5h2M725,328.5h2M725,329.5h2M725,330.5h2M725,331.5h2M724,332.5h3M724,333.5h2M724,334.5h2M724,335.5h2M724,336.5h2M724,337.5h2M724,338.5h2M724,339.5h2M724,340.5h2M724,341.5h2M723,342.5h3M723,343.5h2M723,344.5h2M723,345.5h2M723,346.5h2M723,347.5h2M723,348.5h2M723,349.5h2M723,350.5h2M723,351.5h2M722,352.5h3M722,353.5h2M721,354.5h2M720,355.5h3M719,356.5h3M719,357.5h2M718,358.5h2M717,359.5h3M716,360.5h3M716,361.5h2M715,362.5h3M714,363.5h3M714,364.5h2M713,365.5h2M712,366.5h3M712,367.5h2M711,368.5h3M711,369.5h2M710,370.5h3M709,371.5h3M709,372.5h2M708,373.5h3M708,374.5h2M707,375.5h2M706,376.5h3M705,377.5h3M704,378.5h3M703,379.5h3M702,380.5h3M701,381.5h3M700,382.5h3M699,383.5h3M698,384.5h3M697,385.5h3M696,386.5h3M695,387.5h3M694,388.5h3M694,389.5h2M693,390.5h2M692,391.5h3M691,392.5h3M691,393.5h2M690,394.5h3M690,395.5h2M689,396.5h3M689,397.5h2M689,398.5h2M688,399.5h3M688,400.5h2M688,401.5h2M687,402.5h2M687,403.5h2M686,404.5h3M686,405.5h2M686,406.5h2M685,407.5h3M685,408.5h2M685,409.5h2M684,410.5h3M684,411.5h2M684,412.5h2M683,413.5h2M683,414.5h2M682,415.5h3M682,416.5h2M682,417.5h2M681,418.5h2M681,419.5h2M680,420.5h2M680,421.5h2M679,422.5h2M679,423.5h2M678,424.5h2M678,425.5h2M677,426.5h2M677,427.5h2M676,428.5h2M675,429.5h3M675,430.5h2M674,431.5h3M673,432.5h3M673,433.5h2M672,434.5h3M671,435.5h3M671,436.5h2M670,437.5h3M669,438.5h3M668,439.5h3M667,440.5h3M667,441.5h2M666,442.5h2M665,443.5h2M664,444.5h2M663,445.5h3M663,446.5h2M662,447.5h2M661,448.5h3M661,449.5h2M660,450.5h3M659,451.5h3M659,452.5h2M658,453.5h3M658,454.5h2M658,455.5h2M658,456.5h2M657,457.5h3M657,458.5h2M657,459.5h2M656,460.5h3M656,461.5h2M656,462.5h2M655,463.5h2M654,464.5h3M654,465.5h2M653,466.5h2M652,467.5h3M651,468.5h3M651,469.5h2M650,470.5h2M649,471.5h3M648,472.5h3M648,473.5h2M647,474.5h2M646,475.5h3M645,476.5h3M644,477.5h3M643,478.5h3M642,479.5h3M641,480.5h3M640,481.5h3M639,482.5h3M637,483.5h3M635,484.5h4M634,485.5h4M632,486.5h4M630,487.5h4M629,488.5h4M628,489.5h3M626,490.5h4M625,491.5h3M623,492.5h4M621,493.5h5M619,494.5h5M618,495.5h4M616,496.5h4M535,497.5h4M615,497.5h3M531,498.5h9M614,498.5h3M528,499.5h7M538,499.5h4M613,499.5h3M527,500.5h5M540,500.5h3M612,500.5h3M526,501.5h3M541,501.5h3M611,501.5h3M524,502.5h4M542,502.5h3M610,502.5h3M523,503.5h3M543,503.5h3M608,503.5h4M522,504.5h3M544,504.5h3M607,504.5h3M521,505.5h3M545,505.5h4M606,505.5h3M520,506.5h2M547,506.5h8M600,506.5h8M519,507.5h2M548,507.5h19M587,507.5h20M518,508.5h3M554,508.5h17M582,508.5h19M517,509.5h3M567,509.5h21M516,510.5h3M570,510.5h13M515,511.5h3M514,512.5h3M513,513.5h3M513,514.5h2M512,515.5h2M511,516.5h3M510,517.5h3M509,518.5h3M509,519.5h2M479,520.5h5M508,520.5h2M467,521.5h24M507,521.5h3M463,522.5h16M483,522.5h26M459,523.5h9M490,523.5h18M457,524.5h7M455,525.5h5M454,526.5h4M452,527.5h4M450,528.5h4M449,529.5h4M447,530.5h4M444,531.5h5M442,532.5h5M441,533.5h4M441,534.5h2M440,535.5h2M439,536.5h3M438,537.5h3M437,538.5h3M436,539.5h3M435,540.5h3M434,541.5h3M433,542.5h3M431,543.5h4M430,544.5h3M428,545.5h4M427,546.5h3M426,547.5h3M425,548.5h3M424,549.5h2M422,550.5h3M227,551.5h8M421,551.5h3M224,552.5h13M420,552.5h3M222,553.5h6M234,553.5h5M419,553.5h3M220,554.5h5M236,554.5h5M418,554.5h3M220,555.5h3M238,555.5h14M417,555.5h3M219,556.5h2M240,556.5h13M416,556.5h3M218,557.5h3M251,557.5h4M415,557.5h3M217,558.5h3M252,558.5h4M414,558.5h3M216,559.5h3M254,559.5h4M413,559.5h3M215,560.5h3M256,560.5h6M412,560.5h3M214,561.5h3M258,561.5h7M300,561.5h9M411,561.5h3M212,562.5h4M261,562.5h5M297,562.5h14M410,562.5h3M211,563.5h4M264,563.5h3M293,563.5h8M308,563.5h5M409,563.5h2M209,564.5h4M265,564.5h3M291,564.5h6M310,564.5h5M407,564.5h4M148,565.5h1M207,565.5h5M266,565.5h3M289,565.5h5M312,565.5h5M406,565.5h4M144,566.5h7M203,566.5h7M267,566.5h4M287,566.5h5M314,566.5h6M405,566.5h3M140,567.5h13M196,567.5h12M269,567.5h3M285,567.5h5M316,567.5h7M403,567.5h4M137,568.5h8M150,568.5h5M187,568.5h17M270,568.5h5M282,568.5h6M319,568.5h7M402,568.5h3M136,569.5h5M152,569.5h5M181,569.5h16M271,569.5h15M323,569.5h5M401,569.5h3M134,570.5h4M154,570.5h7M176,570.5h12M274,570.5h9M325,570.5h5M399,570.5h4M133,571.5h3M157,571.5h7M170,571.5h12M327,571.5h5M397,571.5h4M132,572.5h3M160,572.5h16M330,572.5h5M396,572.5h4M130,573.5h4M163,573.5h8M331,573.5h6M395,573.5h3M129,574.5h3M334,574.5h5M394,574.5h3M129,575.5h2M336,575.5h6M391,575.5h5M128,576.5h2M339,576.5h6M364,576.5h9M389,576.5h5M127,577.5h3M342,577.5h6M356,577.5h22M381,577.5h11M126,578.5h3M345,578.5h20M373,578.5h17M126,579.5h2M348,579.5h9M378,579.5h4M125,580.5h3M124,581.5h3M123,582.5h3M123,583.5h2M122,584.5h3M121,585.5h3M120,586.5h3M9,587.5h6M119,587.5h3M5,588.5h13M118,588.5h3M3,589.5h7M14,589.5h7M117,589.5h3M3,590.5h2M17,590.5h7M116,590.5h3M20,591.5h7M115,591.5h3M24,592.5h4M114,592.5h3M27,593.5h2M113,593.5h2M28,594.5h2M111,594.5h3M29,595.5h2M110,595.5h3M30,596.5h2M109,596.5h3M30,597.5h3M108,597.5h3M31,598.5h4M107,598.5h3M33,599.5h3M106,599.5h3M34,600.5h3M105,600.5h3M35,601.5h3M105,601.5h2M36,602.5h4M104,602.5h2M38,603.5h3M103,603.5h3M39,604.5h4M102,604.5h3M41,605.5h4M102,605.5h2M43,606.5h4M101,606.5h3M45,607.5h5M100,607.5h3M47,608.5h5M100,608.5h2M49,609.5h5M99,609.5h2M51,610.5h6M97,610.5h3M53,611.5h9M96,611.5h3M56,612.5h8M95,612.5h3M62,613.5h3M94,613.5h3M63,614.5h4M93,614.5h3M65,615.5h3M89,615.5h6M66,616.5h3M86,616.5h7M67,617.5h7M79,617.5h11M69,618.5h17M73,619.5h6M1064,43.5h4M1061,44.5h9M1059,45.5h5M1068,45.5h3M1057,46.5h5M1069,46.5h3M1056,47.5h3M1070,47.5h3M1055,48.5h3M1071,48.5h4M1054,49.5h3M1073,49.5h3M1053,50.5h3M1074,50.5h3M1052,51.5h3M1075,51.5h3M1051,52.5h3M1076,52.5h3M1050,53.5h3M1077,53.5h4M1049,54.5h3M1079,54.5h3M1564,54.5h16M1048,55.5h3M1080,55.5h4M1563,55.5h17M1047,56.5h3M1082,56.5h4M1559,56.5h6M1046,57.5h3M1083,57.5h4M1553,57.5h10M1045,58.5h3M1085,58.5h3M1550,58.5h10M1044,59.5h3M1086,59.5h3M1548,59.5h6M1043,60.5h3M1087,60.5h3M1532,60.5h18M1042,61.5h3M1088,61.5h3M1529,61.5h20M1041,62.5h3M1089,62.5h3M1525,62.5h8M1040,63.5h3M1090,63.5h3M1522,63.5h7M1039,64.5h3M1091,64.5h3M1519,64.5h7M1037,65.5h3M1092,65.5h2M1517,65.5h6M1036,66.5h3M1093,66.5h2M1514,66.5h6M1035,67.5h3M1093,67.5h3M1510,67.5h7M1034,68.5h3M1094,68.5h3M1507,68.5h8M1033,69.5h3M1095,69.5h2M1504,69.5h7M1012,70.5h5M1032,70.5h3M1096,70.5h2M1501,70.5h7M1009,71.5h25M1097,71.5h3M1499,71.5h5M1007,72.5h6M1016,72.5h16M1098,72.5h3M1498,72.5h4M988,73.5h9M1003,73.5h7M1099,73.5h3M1496,73.5h4M987,74.5h20M1100,74.5h3M1495,74.5h3M985,75.5h4M997,75.5h6M1101,75.5h4M1493,75.5h4M983,76.5h4M1102,76.5h5M1492,76.5h3M982,77.5h3M1104,77.5h6M1491,77.5h3M981,78.5h3M1107,78.5h5M1490,78.5h3M979,79.5h4M1109,79.5h6M1489,79.5h3M975,80.5h6M1112,80.5h5M1479,80.5h11M967,81.5h13M1114,81.5h4M1466,81.5h23M952,82.5h8M961,82.5h14M1116,82.5h3M1449,82.5h8M1464,82.5h16M949,83.5h19M1117,83.5h3M1375,83.5h5M1447,83.5h14M1462,83.5h5M948,84.5h4M960,84.5h2M1119,84.5h2M1371,84.5h12M1445,84.5h5M1456,84.5h9M947,85.5h3M1120,85.5h3M1369,85.5h6M1379,85.5h9M1443,85.5h5M1460,85.5h3M946,86.5h3M1121,86.5h3M1367,86.5h4M1383,86.5h9M1434,86.5h12M946,87.5h2M1122,87.5h3M1366,87.5h3M1387,87.5h6M1412,87.5h15M1430,87.5h14M945,88.5h2M1123,88.5h4M1365,88.5h3M1391,88.5h3M1410,88.5h25M944,89.5h3M1124,89.5h4M1364,89.5h3M1392,89.5h3M1408,89.5h4M1426,89.5h4M944,90.5h2M1126,90.5h4M1363,90.5h3M1393,90.5h17M943,91.5h2M1127,91.5h4M1362,91.5h3M1395,91.5h14M942,92.5h3M1129,92.5h3M1362,92.5h2M1405,92.5h2M942,93.5h2M1131,93.5h3M1361,93.5h3M941,94.5h2M1132,94.5h3M1361,94.5h2M940,95.5h3M1133,95.5h3M1360,95.5h2M940,96.5h2M1134,96.5h3M1359,96.5h3M939,97.5h3M1135,97.5h3M1359,97.5h2M939,98.5h2M1136,98.5h4M1358,98.5h2M938,99.5h3M1138,99.5h3M1264,99.5h8M1357,99.5h2M938,100.5h2M1139,100.5h4M1261,100.5h16M1356,100.5h2M937,101.5h2M1141,101.5h3M1258,101.5h7M1272,101.5h8M1355,101.5h2M936,102.5h3M1142,102.5h4M1255,102.5h7M1276,102.5h6M1354,102.5h2M936,103.5h2M1143,103.5h4M1253,103.5h6M1279,103.5h4M1353,103.5h2M935,104.5h3M1145,104.5h4M1250,104.5h6M1281,104.5h3M1350,104.5h4M935,105.5h2M1146,105.5h4M1246,105.5h8M1282,105.5h3M1348,105.5h5M934,106.5h3M1148,106.5h4M1243,106.5h8M1283,106.5h4M1346,106.5h5M934,107.5h2M1149,107.5h4M1242,107.5h5M1285,107.5h3M1344,107.5h5M933,108.5h2M1151,108.5h3M1241,108.5h3M1286,108.5h3M1343,108.5h4M932,109.5h3M1152,109.5h3M1239,109.5h4M1287,109.5h4M1341,109.5h4M932,110.5h2M1153,110.5h3M1238,110.5h3M1288,110.5h4M1340,110.5h3M931,111.5h2M1154,111.5h3M1237,111.5h3M1290,111.5h3M1338,111.5h4M930,112.5h3M1155,112.5h2M1235,112.5h4M1291,112.5h4M1337,112.5h3M930,113.5h2M1156,113.5h2M1234,113.5h4M1292,113.5h4M1336,113.5h3M929,114.5h3M1157,114.5h2M1233,114.5h3M1294,114.5h3M1334,114.5h4M929,115.5h2M1157,115.5h3M1232,115.5h3M1295,115.5h3M1333,115.5h3M928,116.5h2M1159,116.5h3M1230,116.5h4M1296,116.5h3M1332,116.5h3M927,117.5h3M1160,117.5h3M1229,117.5h3M1297,117.5h4M1331,117.5h3M927,118.5h2M1161,118.5h4M1227,118.5h4M1299,118.5h3M1330,118.5h3M926,119.5h3M1162,119.5h4M1217,119.5h13M1300,119.5h4M1328,119.5h4M926,120.5h2M1164,120.5h3M1210,120.5h18M1302,120.5h4M1327,120.5h3M925,121.5h2M1165,121.5h3M1207,121.5h11M1303,121.5h5M1326,121.5h3M924,122.5h3M1166,122.5h4M1205,122.5h6M1305,122.5h5M1324,122.5h4M924,123.5h2M1168,123.5h3M1203,123.5h4M1307,123.5h5M1322,123.5h5M923,124.5h3M1169,124.5h3M1201,124.5h4M1309,124.5h7M1320,124.5h5M922,125.5h3M1170,125.5h4M1199,125.5h4M1311,125.5h12M922,126.5h2M1172,126.5h5M1197,126.5h4M1315,126.5h6M921,127.5h3M1173,127.5h7M1194,127.5h6M921,128.5h2M1176,128.5h13M1190,128.5h7M920,129.5h2M1179,129.5h16M919,130.5h3M1188,130.5h2M918,131.5h3M918,132.5h2M917,133.5h2M916,134.5h3M915,135.5h3M915,136.5h2M914,137.5h3M913,138.5h3M913,139.5h2M912,140.5h2M911,141.5h3M910,142.5h3M910,143.5h2M909,144.5h2M908,145.5h3M908,146.5h2M851,147.5h8M907,147.5h2M846,148.5h15M905,148.5h4M845,149.5h7M858,149.5h5M902,149.5h6M844,150.5h3M860,150.5h7M900,150.5h6M842,151.5h4M862,151.5h11M897,151.5h6M840,152.5h4M866,152.5h9M889,152.5h12M825,153.5h18M872,153.5h6M883,153.5h15M823,154.5h18M874,154.5h15M818,155.5h7M878,155.5h6M817,156.5h7M815,157.5h4M814,158.5h4M812,159.5h4M811,160.5h4M809,161.5h4M805,162.5h7M801,163.5h9M798,164.5h8M796,165.5h6M793,166.5h6M791,167.5h6M768,168.5h26M764,169.5h28M762,170.5h7M759,171.5h6M758,172.5h4M757,173.5h3M756,174.5h2M755,175.5h2M754,176.5h2M753,177.5h2M752,178.5h3M751,179.5h3M750,180.5h3M750,181.5h2M749,182.5h3M749,183.5h2M748,184.5h3M748,185.5h2M747,186.5h3M747,187.5h2M746,188.5h2M745,189.5h3M745,190.5h2M745,191.5h2M744,192.5h3M744,193.5h2M744,194.5h2M744,195.5h2M743,196.5h3M743,197.5h2M743,198.5h2M743,199.5h2M742,200.5h3M742,201.5h2M742,202.5h2M742,203.5h2M741,204.5h2M741,205.5h2M741,206.5h2M740,207.5h3M740,208.5h2M740,209.5h2M739,210.5h3M739,211.5h2M739,212.5h2M738,213.5h3M738,214.5h2M738,215.5h2M738,216.5h2M738,217.5h2M737,218.5h3M737,219.5h2M737,220.5h2M737,221.5h2M737,222.5h2M736,223.5h3M736,224.5h2M736,225.5h2M736,226.5h2M736,227.5h2M735,228.5h3M735,229.5h2M735,230.5h2M735,231.5h2M735,232.5h2M734,233.5h3M734,234.5h2M734,235.5h2M734,236.5h2M734,237.5h2M734,238.5h2M734,239.5h2M733,240.5h2M733,241.5h2M733,242.5h2M733,243.5h2M733,244.5h2M733,245.5h2M732,246.5h3M732,247.5h2M732,248.5h2M732,249.5h2M732,250.5h2M732,251.5h2M732,252.5h2M731,253.5h3M731,254.5h2M731,255.5h2M731,256.5h2M731,257.5h2M731,258.5h2M731,259.5h2M730,260.5h3M730,261.5h2M730,262.5h2M730,263.5h2M730,264.5h2M730,265.5h2M730,266.5h2M730,267.5h2M729,268.5h3M729,269.5h2M729,270.5h2M729,271.5h2M729,272.5h2M729,273.5h2M729,274.5h2M729,275.5h2M728,276.5h3M728,277.5h2M728,278.5h2M728,279.5h2M728,280.5h2M728,281.5h2M728,282.5h2M728,283.5h2M728,284.5h2M727,285.5h2M727,286.5h2M727,287.5h2M727,288.5h2M727,289.5h2M727,290.5h2M727,291.5h2M727,292.5h2M726,293.5h3M726,294.5h2M726,295.5h2M726,296.5h2M726,297.5h2M726,298.5h2M726,299.5h2M726,300.5h2M726,301.5h2M726,302.5h2M726,303.5h2M725,304.5h3M725,305.5h2M725,306.5h2M725,307.5h2M725,308.5h2M725,309.5h2M725,310.5h2M725,311.5h2M725,312.5h2M725,313.5h2M725,314.5h2M724,315.5h3M724,316.5h2M724,317.5h2M724,318.5h2M724,319.5h2M724,320.5h2M724,321.5h2M724,322.5h2M724,323.5h2M724,324.5h2M724,325.5h2M724,326.5h2M723,327.5h2M723,328.5h2M723,329.5h2M723,330.5h2M723,331.5h2M723,332.5h2M723,333.5h2M723,334.5h2M723,335.5h2M723,336.5h2M723,337.5h2M722,338.5h3M721,339.5h3M720,340.5h3M719,341.5h3M718,342.5h3M718,343.5h2M717,344.5h2M716,345.5h3M715,346.5h3M715,347.5h2M714,348.5h2M713,349.5h3M712,350.5h3M712,351.5h2M711,352.5h2M710,353.5h3M709,354.5h3M709,355.5h2M708,356.5h2M707,357.5h3M706,358.5h3M705,359.5h3M704,360.5h3M703,361.5h3M703,362.5h2M702,363.5h2M700,364.5h3M698,365.5h4M696,366.5h5M694,367.5h5M694,368.5h3M693,369.5h2M692,370.5h3M691,371.5h3M691,372.5h2M690,373.5h2M690,374.5h2M689,375.5h3M689,376.5h2M689,377.5h2M688,378.5h3M688,379.5h2M688,380.5h2M687,381.5h3M687,382.5h2M687,383.5h2M686,384.5h3M686,385.5h2M686,386.5h2M685,387.5h3M685,388.5h2M685,389.5h2M685,390.5h2M684,391.5h3M684,392.5h2M684,393.5h2M684,394.5h2M683,395.5h2M683,396.5h2M682,397.5h3M682,398.5h2M682,399.5h2M681,400.5h3M681,401.5h2M681,402.5h2M680,403.5h3M680,404.5h2M680,405.5h2M679,406.5h3M679,407.5h2M678,408.5h3M678,409.5h2M677,410.5h3M677,411.5h2M676,412.5h3M676,413.5h2M675,414.5h2M675,415.5h2M674,416.5h2M674,417.5h2M673,418.5h2M672,419.5h3M672,420.5h2M671,421.5h2M670,422.5h2M669,423.5h3M668,424.5h3M667,425.5h3M666,426.5h3M665,427.5h3M665,428.5h2M664,429.5h2M663,430.5h3M662,431.5h3M662,432.5h2M661,433.5h3M660,434.5h3M660,435.5h2M659,436.5h2M658,437.5h3M658,438.5h2M657,439.5h2M657,440.5h2M656,441.5h3M656,442.5h2M655,443.5h3M655,444.5h2M655,445.5h2M654,446.5h3M654,447.5h2M653,448.5h3M653,449.5h2M653,450.5h2M652,451.5h3M652,452.5h2M652,453.5h2M652,454.5h2M651,455.5h3M651,456.5h2M651,457.5h2M651,458.5h2M650,459.5h2M650,460.5h2M649,461.5h3M647,462.5h4M646,463.5h3M645,464.5h3M644,465.5h3M643,466.5h3M643,467.5h2M642,468.5h3M641,469.5h3M641,470.5h2M640,471.5h3M640,472.5h2M639,473.5h3M638,474.5h3M637,475.5h3M636,476.5h3M634,477.5h4M632,478.5h5M630,479.5h5M627,480.5h6M625,481.5h6M624,482.5h4M622,483.5h4M532,484.5h4M620,484.5h4M526,485.5h14M618,485.5h4M525,486.5h8M535,486.5h8M616,486.5h4M523,487.5h4M540,487.5h4M614,487.5h5M522,488.5h4M542,488.5h3M613,488.5h4M520,489.5h4M544,489.5h3M612,489.5h3M519,490.5h3M545,490.5h3M611,490.5h3M518,491.5h3M546,491.5h3M611,491.5h2M518,492.5h2M547,492.5h4M610,492.5h2M517,493.5h2M548,493.5h5M609,493.5h3M515,494.5h3M550,494.5h4M608,494.5h3M514,495.5h3M552,495.5h4M607,495.5h3M513,496.5h3M554,496.5h6M606,496.5h3M513,497.5h2M555,497.5h8M606,497.5h2M512,498.5h2M559,498.5h7M605,498.5h2M511,499.5h3M563,499.5h5M604,499.5h2M510,500.5h3M565,500.5h5M601,500.5h5M509,501.5h3M567,501.5h5M584,501.5h21M509,502.5h2M569,502.5h33M508,503.5h2M571,503.5h14M507,504.5h3M506,505.5h3M506,506.5h2M505,507.5h2M504,508.5h3M475,509.5h13M503,509.5h3M458,510.5h32M503,510.5h2M454,511.5h22M487,511.5h18M453,512.5h6M489,512.5h15M451,513.5h4M450,514.5h4M448,515.5h4M447,516.5h4M445,517.5h4M443,518.5h5M441,519.5h5M440,520.5h4M438,521.5h4M437,522.5h3M437,523.5h2M436,524.5h2M435,525.5h3M434,526.5h3M433,527.5h3M432,528.5h3M431,529.5h3M430,530.5h3M429,531.5h3M428,532.5h3M427,533.5h3M426,534.5h3M425,535.5h3M424,536.5h3M423,537.5h3M422,538.5h3M227,539.5h9M421,539.5h2M224,540.5h14M419,540.5h3M222,541.5h6M235,541.5h4M418,541.5h3M221,542.5h4M237,542.5h5M417,542.5h3M219,543.5h4M239,543.5h8M416,543.5h3M218,544.5h3M241,544.5h15M415,544.5h3M217,545.5h3M246,545.5h12M414,545.5h3M216,546.5h3M256,546.5h4M412,546.5h4M215,547.5h3M257,547.5h4M411,547.5h3M214,548.5h3M259,548.5h4M410,548.5h3M213,549.5h3M260,549.5h4M408,549.5h4M213,550.5h2M262,550.5h4M305,550.5h3M407,550.5h3M212,551.5h2M263,551.5h4M297,551.5h14M406,551.5h3M209,552.5h5M265,552.5h4M295,552.5h11M307,552.5h6M405,552.5h3M207,553.5h5M267,553.5h4M292,553.5h6M310,553.5h5M404,553.5h3M142,554.5h6M205,554.5h5M268,554.5h4M290,554.5h6M312,554.5h6M402,554.5h4M139,555.5h15M202,555.5h6M270,555.5h3M287,555.5h6M314,555.5h7M401,555.5h3M136,556.5h7M147,556.5h9M188,556.5h18M271,556.5h4M284,556.5h6M317,556.5h10M400,556.5h3M134,557.5h5M153,557.5h6M184,557.5h19M273,557.5h15M320,557.5h12M399,557.5h3M133,558.5h3M156,558.5h5M179,558.5h10M274,558.5h11M326,558.5h9M398,558.5h3M132,559.5h3M158,559.5h7M172,559.5h12M332,559.5h6M396,559.5h4M131,560.5h3M160,560.5h20M334,560.5h6M395,560.5h4M130,561.5h3M165,561.5h8M337,561.5h6M368,561.5h3M393,561.5h4M129,562.5h3M340,562.5h5M365,562.5h8M391,562.5h5M128,563.5h3M342,563.5h6M361,563.5h8M370,563.5h5M389,563.5h5M127,564.5h3M345,564.5h5M352,564.5h14M372,564.5h5M386,564.5h6M126,565.5h3M347,565.5h15M375,565.5h14M126,566.5h2M349,566.5h3M377,566.5h10M125,567.5h2M124,568.5h3M123,569.5h3M123,570.5h2M122,571.5h2M121,572.5h3M120,573.5h3M119,574.5h3M118,575.5h3M116,576.5h4M115,577.5h3M5,578.5h11M114,578.5h3M3,579.5h16M113,579.5h3M3,580.5h3M15,580.5h11M111,580.5h4M18,581.5h14M110,581.5h3M25,582.5h8M109,582.5h3M31,583.5h2M108,583.5h3M32,584.5h2M107,584.5h2M32,585.5h3M106,585.5h2M33,586.5h2M105,586.5h2M34,587.5h2M104,587.5h2M34,588.5h3M103,588.5h2M35,589.5h3M102,589.5h2M36,590.5h3M101,590.5h3M37,591.5h3M100,591.5h3M38,592.5h3M99,592.5h3M39,593.5h3M99,593.5h2M40,594.5h3M98,594.5h2M41,595.5h5M97,595.5h3M43,596.5h5M96,596.5h3M45,597.5h7M95,597.5h3M47,598.5h9M94,598.5h3M51,599.5h9M94,599.5h2M55,600.5h8M93,600.5h2M59,601.5h7M92,601.5h2M63,602.5h6M91,602.5h3M65,603.5h11M81,603.5h12M68,604.5h24M76,605.5h6" fill="none" stroke="#008000" stroke-width="1" shape-rendering="crispEdges"/>
<text x="1403.1 1413.6 1423.5 1428.3 1437.5 1445.6 1456.1 1466 1470.1 1481 1486 1491.1 1500.6 1509.4 1515.4 1522.8 1531.6 1540.4" y="69.7" font-size="15.8" fill="#ff0000" class="h2">RSI2/RSI9: 51.1543</text>
<g shape-rendering="crispEdges">
<rect x="1327" y="611" width="205" height="10" fill="#6b8e23"/>
<rect x="1357" y="611" width="25" height="10" fill="#ff0000"/>
<rect x="1482" y="611" width="50" height="10" fill="#ff0000"/>
</g>
<text x="1335" y="631" font-size="12" fill="#000" class="t">W1</text>
<text x="1361.5" y="631" font-size="12" fill="#000" class="t">D1</text>
<text x="1386.6" y="631" font-size="12" fill="#000" class="t">H4</text>
<text x="1411.5" y="631" font-size="12" fill="#000" class="t">H1</text>
<text x="1429.8" y="631" font-size="12" fill="#000" class="t">M30</text>
<text x="1454.5" y="631" font-size="12" fill="#000" class="t">M15</text>
<text x="1486.6" y="631" font-size="12" fill="#000" class="t">M5</text>
<text x="1511.8" y="631" font-size="12" fill="#000" class="t">M1</text>
<text x="1528.6" y="616.8" font-size="9.7" fill="#000" class="t" textLength="39.6" lengthAdjust="spacing">SMA200</text>
<g shape-rendering="crispEdges" stroke="#000" stroke-width="1" fill="none">
<path d="M2.5,2V647.5H1580.5V2M2,2.5H1581"/>
<path d="M1581,32.5h2"/>
<path d="M1581,81.5h2"/>
<path d="M1581,131.5h2"/>
<path d="M1581,180.5h2"/>
<path d="M1581,230.5h2"/>
<path d="M1581,279.5h2"/>
<path d="M1581,329.5h2"/>
<path d="M1581,378.5h2"/>
<path d="M1581,428.5h2"/>
<path d="M1581,477.5h2"/>
<path d="M1581,527.5h2"/>
<path d="M1581,576.5h2"/>
<path d="M1581,626.5h2"/>
<path d="M3.5,648v3"/>
<path d="M99.5,648v3"/>
<path d="M195.5,648v3"/>
<path d="M291.5,648v3"/>
<path d="M387.5,648v3"/>
<path d="M483.5,648v3"/>
<path d="M579.5,648v3"/>
<path d="M675.5,648v3"/>
<path d="M771.5,648v3"/>
<path d="M867.5,648v3"/>
<path d="M963.5,648v3"/>
<path d="M1059.5,648v3"/>
<path d="M1155.5,648v3"/>
<path d="M1251.5,648v3"/>
<path d="M1347.5,648v3"/>
<path d="M1443.5,648v3"/>
<path d="M1539.5,648v3"/>
</g>
<text x="1586.8" y="37.0" font-size="12" class="h" textLength="35.6" lengthAdjust="spacing">24326</text>
<text x="1586.8" y="86.0" font-size="12" class="h" textLength="35.6" lengthAdjust="spacing">24231</text>
<text x="1586.8" y="136.0" font-size="12" class="h" textLength="35.6" lengthAdjust="spacing">24136</text>
<text x="1586.8" y="185.0" font-size="12" class="h" textLength="35.6" lengthAdjust="spacing">24036</text>
<text x="1586.8" y="235.0" font-size="12" class="h" textLength="35.6" lengthAdjust="spacing">23941</text>
<text x="1586.8" y="284.0" font-size="12" class="h" textLength="35.6" lengthAdjust="spacing">23846</text>
<text x="1586.8" y="334.0" font-size="12" class="h" textLength="35.6" lengthAdjust="spacing">23746</text>
<text x="1586.8" y="383.0" font-size="12" class="h" textLength="35.6" lengthAdjust="spacing">23651</text>
<text x="1586.8" y="433.0" font-size="12" class="h" textLength="35.6" lengthAdjust="spacing">23556</text>
<text x="1586.8" y="482.0" font-size="12" class="h" textLength="35.6" lengthAdjust="spacing">23456</text>
<text x="1586.8" y="532.0" font-size="12" class="h" textLength="35.6" lengthAdjust="spacing">23361</text>
<text x="1586.8" y="581.0" font-size="12" class="h" textLength="35.6" lengthAdjust="spacing">23266</text>
<text x="1586.8" y="631.0" font-size="12" class="h" textLength="35.6" lengthAdjust="spacing">23171</text>
<text x="1.7" y="663" font-size="12" class="h" textLength="69.5" lengthAdjust="spacing">16 Apr 2020</text>
<text x="97.7" y="663" font-size="12" class="h" textLength="73.3" lengthAdjust="spacing">16 Apr 20:08</text>
<text x="193.7" y="663" font-size="12" class="h" textLength="73.3" lengthAdjust="spacing">16 Apr 20:32</text>
<text x="289.7" y="663" font-size="12" class="h" textLength="73.3" lengthAdjust="spacing">16 Apr 20:56</text>
<text x="385.7" y="663" font-size="12" class="h" textLength="73.3" lengthAdjust="spacing">16 Apr 21:20</text>
<text x="481.7" y="663" font-size="12" class="h" textLength="73.3" lengthAdjust="spacing">16 Apr 21:44</text>
<text x="577.7" y="663" font-size="12" class="h" textLength="73.3" lengthAdjust="spacing">16 Apr 22:08</text>
<text x="673.7" y="663" font-size="12" class="h" textLength="73.3" lengthAdjust="spacing">16 Apr 22:47</text>
<text x="769.7" y="663" font-size="12" class="h" textLength="73.3" lengthAdjust="spacing">17 Apr 00:11</text>
<text x="865.7" y="663" font-size="12" class="h" textLength="73.3" lengthAdjust="spacing">17 Apr 00:35</text>
<text x="961.7" y="663" font-size="12" class="h" textLength="73.3" lengthAdjust="spacing">17 Apr 00:59</text>
<text x="1057.7" y="663" font-size="12" class="h" textLength="73.3" lengthAdjust="spacing">17 Apr 01:23</text>
<text x="1153.7" y="663" font-size="12" class="h" textLength="73.3" lengthAdjust="spacing">17 Apr 01:47</text>
<text x="1249.7" y="663" font-size="12" class="h" textLength="73.3" lengthAdjust="spacing">17 Apr 02:11</text>
<text x="1345.7" y="663" font-size="12" class="h" textLength="73.3" lengthAdjust="spacing">17 Apr 02:35</text>
<text x="1441.7" y="663" font-size="12" class="h" textLength="73.3" lengthAdjust="spacing">17 Apr 02:59</text>
<text x="1537.7" y="663" font-size="12" class="h" textLength="73.3" lengthAdjust="spacing">17 Apr 03:23</text>
<g shape-rendering="crispEdges"><rect x="1582" y="342" width="45" height="14" fill="#000"/><rect x="1580" y="349" width="2" height="1" fill="#d0d0d0"/></g>
<text x="1586.8" y="354" font-size="12" fill="#fff" class="h" textLength="35.6" lengthAdjust="spacing">23709</text>
<path d="M6,10.5h9.6l-4.8,4.8z" fill="#000"/>
<text x="21" y="17" font-size="12" class="h" textLength="251.3" lengthAdjust="spacing" xml:space="preserve">UsaIndSb620,M1  23741 23743 23709 23709</text>
<text x="7.5" y="30" font-size="12" class="h" textLength="173" lengthAdjust="spacing" xml:space="preserve">ADR 1.00 20051027 01 Mod 01</text>
<text x="7.5" y="42" font-size="12" class="h" textLength="521.7" lengthAdjust="spacing" xml:space="preserve">ADR Value= 99914, Reached= No, Today's Range= 61400, T's High= 24323, T's Low= 23709</text>
<text x="7.5" y="53.5" font-size="12" class="h" textLength="487.7" lengthAdjust="spacing" xml:space="preserve">Target High= 24708, Target Low= 23324 / To ADR High= 99914, To ADR Low= 38514</text>
</svg>
</body></html>
